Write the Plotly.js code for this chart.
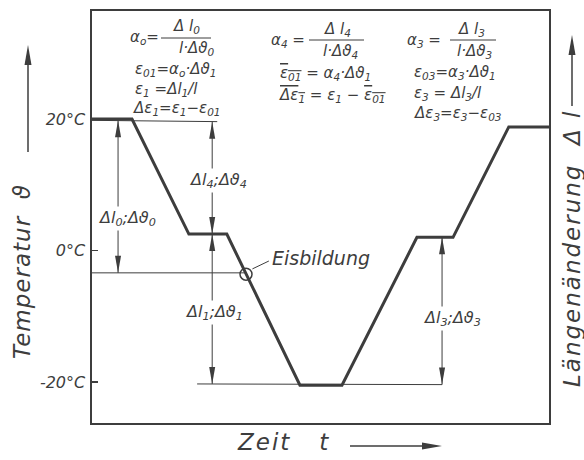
<!DOCTYPE html>
<html>
<head>
<meta charset="utf-8">
<script src="https://cdn.plot.ly/plotly-3.0.1.min.js"></script>
<style>
  html, body { margin: 0; padding: 0; background: #fff; }
  #chart { width: 584px; height: 460px; }
</style>
</head>
<body>
<div id="chart"></div>
<script>
// Temperaturverlauf (Zeit ohne Einheit 0..100, Temperatur in °C)
const zeit = [0, 8.75, 21.2, 29.5, 45.5, 54.7, 71.1, 79.0, 91.2, 100];
const temperatur = [20, 20, 2.5, 2.5, -20.5, -20.5, 2.0, 2.0, 18.8, 18.8];

// Hilfslinien
const linie20X = [0, 27.4];
const linie20Y = [19.8, 19.6];
const eisLinieX = [0, 33.7];
const eisLinieY = [-3.4, -3.4];
const linieM20X = [23.0, 76.6];
const linieM20Y = [-20.3, -20.4];

// Eisbildung
const eisX = [33.7];
const eisY = [-3.6];
const eisLeaderX = [35.1, 38.7];
const eisLeaderY = [-2.8, -1.6];
const eisText = 'Eisbildung';
const eisTextX = 50.1;
const eisTextY = -1.2;

// Maßpfeile
const pfeilX = [5.7, 26.3, 26.3, 76.6];
const pfeilOben = [19.8, 19.6, 2.5, 2.0];
const pfeilUnten = [-3.4, 2.5, -20.3, -20.4];
const pfeilText = ['Δl<sub>0</sub>;Δϑ<sub>0</sub>', 'Δl<sub>4</sub>;Δϑ<sub>4</sub>',
    'Δl<sub>1</sub>;Δϑ<sub>1</sub>', 'Δl<sub>3</sub>;Δϑ<sub>3</sub>'];
const pfeilTextX = [7.6, 27.6, 26.7, 78.8];
const pfeilTextY = [4.9, 10.6, -9.4, -10.3];

const yTicks = [20, 0, -20];
const yTickText = ['20°C', '0°C', '-20°C'];

const ink = '#3d3d3d';
const fam = 'DejaVu Sans';
const W = 457, H = 412, L = 92, T = 11;
const px = x => (x - L) / W;
const py = y => (T + H - y) / H;

const traces = [];
// duenne Hilfslinien
[[linie20X, linie20Y], [eisLinieX, eisLinieY], [linieM20X, linieM20Y], [eisLeaderX, eisLeaderY]].forEach(function (p) {
    traces.push({x: p[0], y: p[1], mode: 'lines', line: {color: ink, width: 1}, hoverinfo: 'skip'});
});
// Pfeilschaefte
pfeilX.forEach(function (x, i) {
    traces.push({x: [x, x], y: [pfeilOben[i], pfeilUnten[i]], mode: 'lines', line: {color: ink, width: 1}, hoverinfo: 'skip'});
});
// Temperaturkurve
traces.push({x: zeit, y: temperatur, mode: 'lines', line: {color: ink, width: 3}});
// Eisbildung Kreis
traces.push({x: eisX, y: eisY, mode: 'markers', marker: {symbol: 'circle-open', size: 12, color: ink, line: {width: 1.5, color: ink}}});

// Pfeilspitzen
function spitze(xref, yref, x, y, dir, len, half) {
    let path;
    if (dir === 'up') path = `M0,0 L${-half},${-len} L${half},${-len} Z`;
    if (dir === 'down') path = `M0,0 L${-half},${len} L${half},${len} Z`;
    if (dir === 'right') path = `M0,0 L${-len},${-half} L${-len},${half} Z`;
    return {type: 'path', xref: xref, yref: yref, xsizemode: 'pixel', ysizemode: 'pixel',
        xanchor: x, yanchor: y, path: path, fillcolor: ink, line: {width: 0}};
}
const shapes = [];
pfeilX.forEach(function (x, i) {
    shapes.push(spitze('x', 'y', x, pfeilOben[i], 'up', 17, 3));
    shapes.push(spitze('x', 'y', x, pfeilUnten[i], 'down', 17, 3));
});
// Achsenpfeile
function linie(x0, y0, x1, y1, w) {
    return {type: 'line', xref: 'paper', yref: 'paper', x0: x0, y0: y0, x1: x1, y1: y1, line: {color: ink, width: w}};
}
shapes.push(linie(px(28), py(152), px(28), py(60), 1.5));
shapes.push(spitze('paper', 'paper', px(28), py(45), 'up', 20, 3.5));
shapes.push(linie(px(572), py(106), px(572), py(50), 1.5));
shapes.push(spitze('paper', 'paper', px(572), py(35), 'up', 20, 3.5));
shapes.push(linie(px(350), py(446), px(425), py(446), 1.5));
shapes.push(spitze('paper', 'paper', px(442), py(446), 'right', 20, 3.5));
// Bruchstriche
[[161, 211, 38], [309, 364, 40], [450, 496, 40]].forEach(function (b) {
    shapes.push(linie(px(b[0]), py(b[2]), px(b[1]), py(b[2]), 1));
});

const annotations = [];
function txt(text, x, y, size, anchor, extra) {
    const a = Object.assign({text: text, xref: 'paper', yref: 'paper', x: px(x), y: py(y), showarrow: false,
        xanchor: anchor || 'center', yanchor: 'middle',
        font: {family: fam, size: size, color: ink, style: 'italic'}}, extra || {});
    annotations.push(a);
}
const ol = s => '<span style="text-decoration:overline">' + s + '</span>';
const sp = (s, n) => '<span style="letter-spacing:' + n + 'px">' + s + '</span>';
// Formelblock links
txt('α<sub>o</sub>=', 161, 38, 15, 'right');
txt('Δ l<sub>0</sub>', 186, 27, 15);
txt('l·Δϑ<sub>0</sub>', 196, 49, 15);
txt('ε<sub>01</sub>=α<sub>o</sub>·Δϑ<sub>1</sub>', 133, 69, 15, 'left');
txt('ε<sub>1</sub> =Δl<sub>1</sub>/l', 133, 89, 15, 'left');
txt('Δε<sub>1</sub>=ε<sub>1</sub>−ε<sub>01</sub>', 131, 108, 15, 'left');
// Formelblock Mitte
txt('α<sub>4</sub> =', 307, 41, 15, 'right');
txt('Δ l<sub>4</sub>', 337, 30, 15);
txt('l·Δϑ<sub>4</sub>', 340, 52, 15);
txt(ol('ε<sub>01</sub>') + ' = α<sub>4</sub>·Δϑ<sub>1</sub>', 278, 73, 15, 'left');
txt(ol('Δε<sub>1</sub>') + ' = ε<sub>1</sub> − ' + ol('ε<sub>01</sub>'), 277, 95, 15, 'left');
// Formelblock rechts
txt('α<sub>3</sub> =', 443, 41, 15, 'right');
txt('Δ l<sub>3</sub>', 471, 30, 15);
txt('l·Δϑ<sub>3</sub>', 474, 52, 15);
txt('ε<sub>03</sub>=α<sub>3</sub>·Δϑ<sub>1</sub>', 412, 72, 15, 'left');
txt('ε<sub>3</sub> = Δl<sub>3</sub>/l', 412, 93, 15, 'left');
txt('Δε<sub>3</sub>=ε<sub>3</sub>−ε<sub>03</sub>', 412, 113, 15, 'left');
// Achsentitel
txt(sp('Temperatur  ϑ', 1), 22, 272, 23, 'center', {textangle: -90});
txt(sp('Längenänderung  Δ l', 2), 572, 248, 23, 'center', {textangle: -90});
txt(sp('Zeit\u00a0\u00a0 t', 2), 283, 442, 23, 'center');

// Beschriftungen der Maßpfeile
pfeilText.forEach(function (t, i) {
    annotations.push({text: t, x: pfeilTextX[i], y: pfeilTextY[i], xref: 'x', yref: 'y', showarrow: false,
        bgcolor: '#ffffff', borderpad: 1,
        font: {family: fam, size: 16, color: ink, style: 'italic'}});
});
annotations.push({text: eisText, x: eisTextX, y: eisTextY, xref: 'x', yref: 'y', showarrow: false,
    font: {family: fam, size: 19, color: ink, style: 'italic'}});

const layout = {
    width: 584, height: 460,
    margin: {l: 92, r: 35, t: 11, b: 37},
    paper_bgcolor: '#fff', plot_bgcolor: '#fff',
    showlegend: false,
    xaxis: {range: [0, 100], showline: true, mirror: true, linecolor: ink, linewidth: 1.6,
        showgrid: false, zeroline: false, showticklabels: false, ticks: ''},
    yaxis: {range: [-26.24, 36.43], showline: true, mirror: true, linecolor: ink, linewidth: 1.6,
        showgrid: false, zeroline: false, tickvals: yTicks, ticktext: yTickText,
        ticks: 'inside', ticklen: 6, tickwidth: 1.2, tickcolor: ink, ticklabelstandoff: 2,
        tickfont: {family: fam, size: 16, color: ink, style: 'italic'}},
    shapes: shapes,
    annotations: annotations
};

Plotly.newPlot('chart', traces, layout, {displayModeBar: false, staticPlot: true});
</script>
</body>
</html>
